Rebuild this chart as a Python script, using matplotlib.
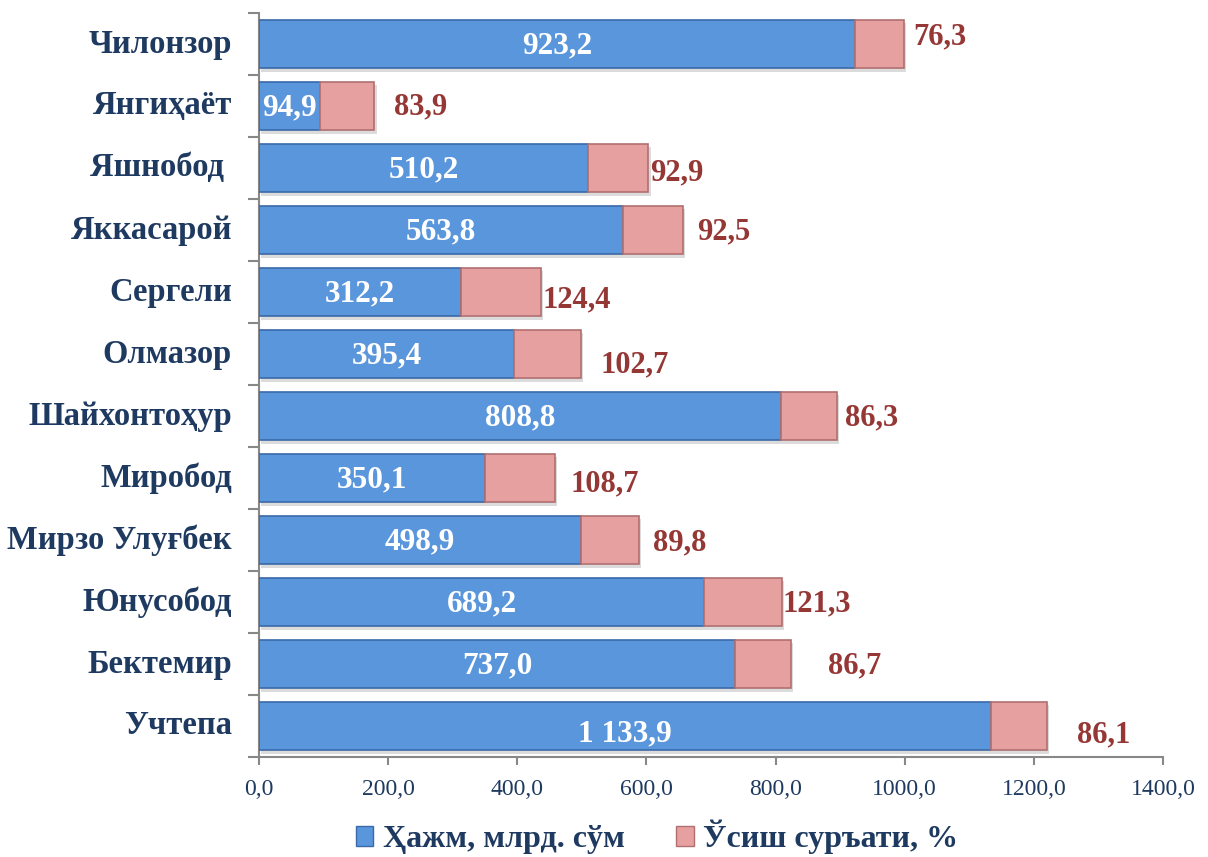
import matplotlib
matplotlib.use("Agg")
import matplotlib.pyplot as plt
from matplotlib.patches import Patch
import matplotlib.patheffects as pe
import numpy as np

plt.rcParams['font.family'] = ['Liberation Serif', 'DejaVu Serif']

categories = ["Чилонзор", "Янгиҳаёт", "Яшнобод ", "Яккасарой", "Сергели", "Олмазор",
              "Шайхонтоҳур", "Миробод", "Мирзо Улуғбек", "Юнусобод", "Бектемир", "Учтепа"]
volume = [923.2, 94.9, 510.2, 563.8, 312.2, 395.4, 808.8, 350.1, 498.9, 689.2, 737.0, 1133.9]
growth = [76.3, 83.9, 92.9, 92.5, 124.4, 102.7, 86.3, 108.7, 89.8, 121.3, 86.7, 86.1]
volume_labels = ["923,2", "94,9", "510,2", "563,8", "312,2", "395,4", "808,8", "350,1",
                 "498,9", "689,2", "737,0", "1 133,9"]
growth_labels = ["76,3", "83,9", "92,9", "92,5", "124,4", "102,7", "86,3", "108,7",
                 "89,8", "121,3", "86,7", "86,1"]
series_names = ["Ҳажм, млрд. сўм", "Ўсиш суръати, %"]
xticks = [0, 200, 400, 600, 800, 1000, 1200, 1400]
xtick_labels = ["0,0", "200,0", "400,0", "600,0", "800,0", "1000,0", "1200,0", "1400,0"]

# label offsets (pixels) for growth labels, as placed in the original
lab_dx = [9, 20, 2, 14, 2, 20, 8, 15, 14, 0, 37, 30]
lab_dy = [-7, 1, 5, 2, 8, 11, 2, 6, 3, 2, 2, 9]

navy = "#1F3A60"
blue = "#5A96DC"
blue_edge = "#3A6AA8"
pink = "#E6A09F"
pink_edge = "#B07070"
red = "#953735"

fig = plt.figure(figsize=(12.08, 8.57), dpi=100)
ax = fig.add_axes([259/1208, 1 - 757/857, (1163-259)/1208, (757-13)/857])

y = np.arange(len(categories))
h = 0.79
shadow = [pe.SimplePatchShadow(offset=(1.5, -2.5), shadow_rgbFace='#999999', alpha=0.35), pe.Normal()]
b1 = ax.barh(y, volume, height=h, color=blue, edgecolor=blue_edge, linewidth=1.2, zorder=3)
b2 = ax.barh(y, growth, left=volume, height=h, color=pink, edgecolor=pink_edge, linewidth=1.2, zorder=3)
for p in list(b1) + list(b2):
    p.set_path_effects(shadow)

ax.set_xlim(0, 1400)
ax.set_ylim(len(categories) - 0.5, -0.5)

px = 72 / 100.0
for i in range(len(categories)):
    ax.text(volume[i] / 2, y[i] + (0.12 if i == len(categories) - 1 else 0.03), volume_labels[i],
            ha='center', va='center', color='white', fontsize=22.5, fontweight='bold', zorder=5)
    ax.annotate(growth_labels[i], xy=(volume[i] + growth[i], y[i]),
                xytext=(lab_dx[i] * px, -lab_dy[i] * px), textcoords='offset points',
                ha='left', va='center', color=red, fontsize=22, fontweight='bold', zorder=5)

ax.set_yticks(y)
ax.set_yticklabels([])
for i, c in enumerate(categories):
    ax.text(-27 / 0.6457, y[i], c, ha='right', va='center', color=navy,
            fontsize=23.5, fontweight='bold', transform=ax.transData, clip_on=False)
ax.set_yticks(np.arange(-0.5, len(categories) + 0.5, 1.0), minor=True)
ax.tick_params(axis='y', which='major', length=0)
ax.tick_params(axis='y', which='minor', length=8, width=1.5, color='#888888', direction='out')

ax.set_xticks(xticks)
ax.set_xticklabels(xtick_labels, color=navy, fontsize=17)
ax.tick_params(axis='x', length=6, width=1.5, color='#888888', direction='out', pad=10)

for s in ['top', 'right']:
    ax.spines[s].set_visible(False)
for s in ['left', 'bottom']:
    ax.spines[s].set_color('#888888')
    ax.spines[s].set_linewidth(1.5)

handles = [Patch(facecolor=blue, edgecolor=blue_edge, label=series_names[0]),
           Patch(facecolor=pink, edgecolor=pink_edge, label=series_names[1])]
leg = fig.legend(handles=handles, loc='center', bbox_to_anchor=(657/1208, 1 - 837/857), ncol=2,
                 frameon=False, prop={'size': 23, 'weight': 'bold'}, handlelength=0.55,
                 handleheight=0.55, handletextpad=0.3, columnspacing=1.6, borderpad=0.1)
for t in leg.get_texts():
    t.set_color(navy)

fig.savefig("out.png", dpi=100)
